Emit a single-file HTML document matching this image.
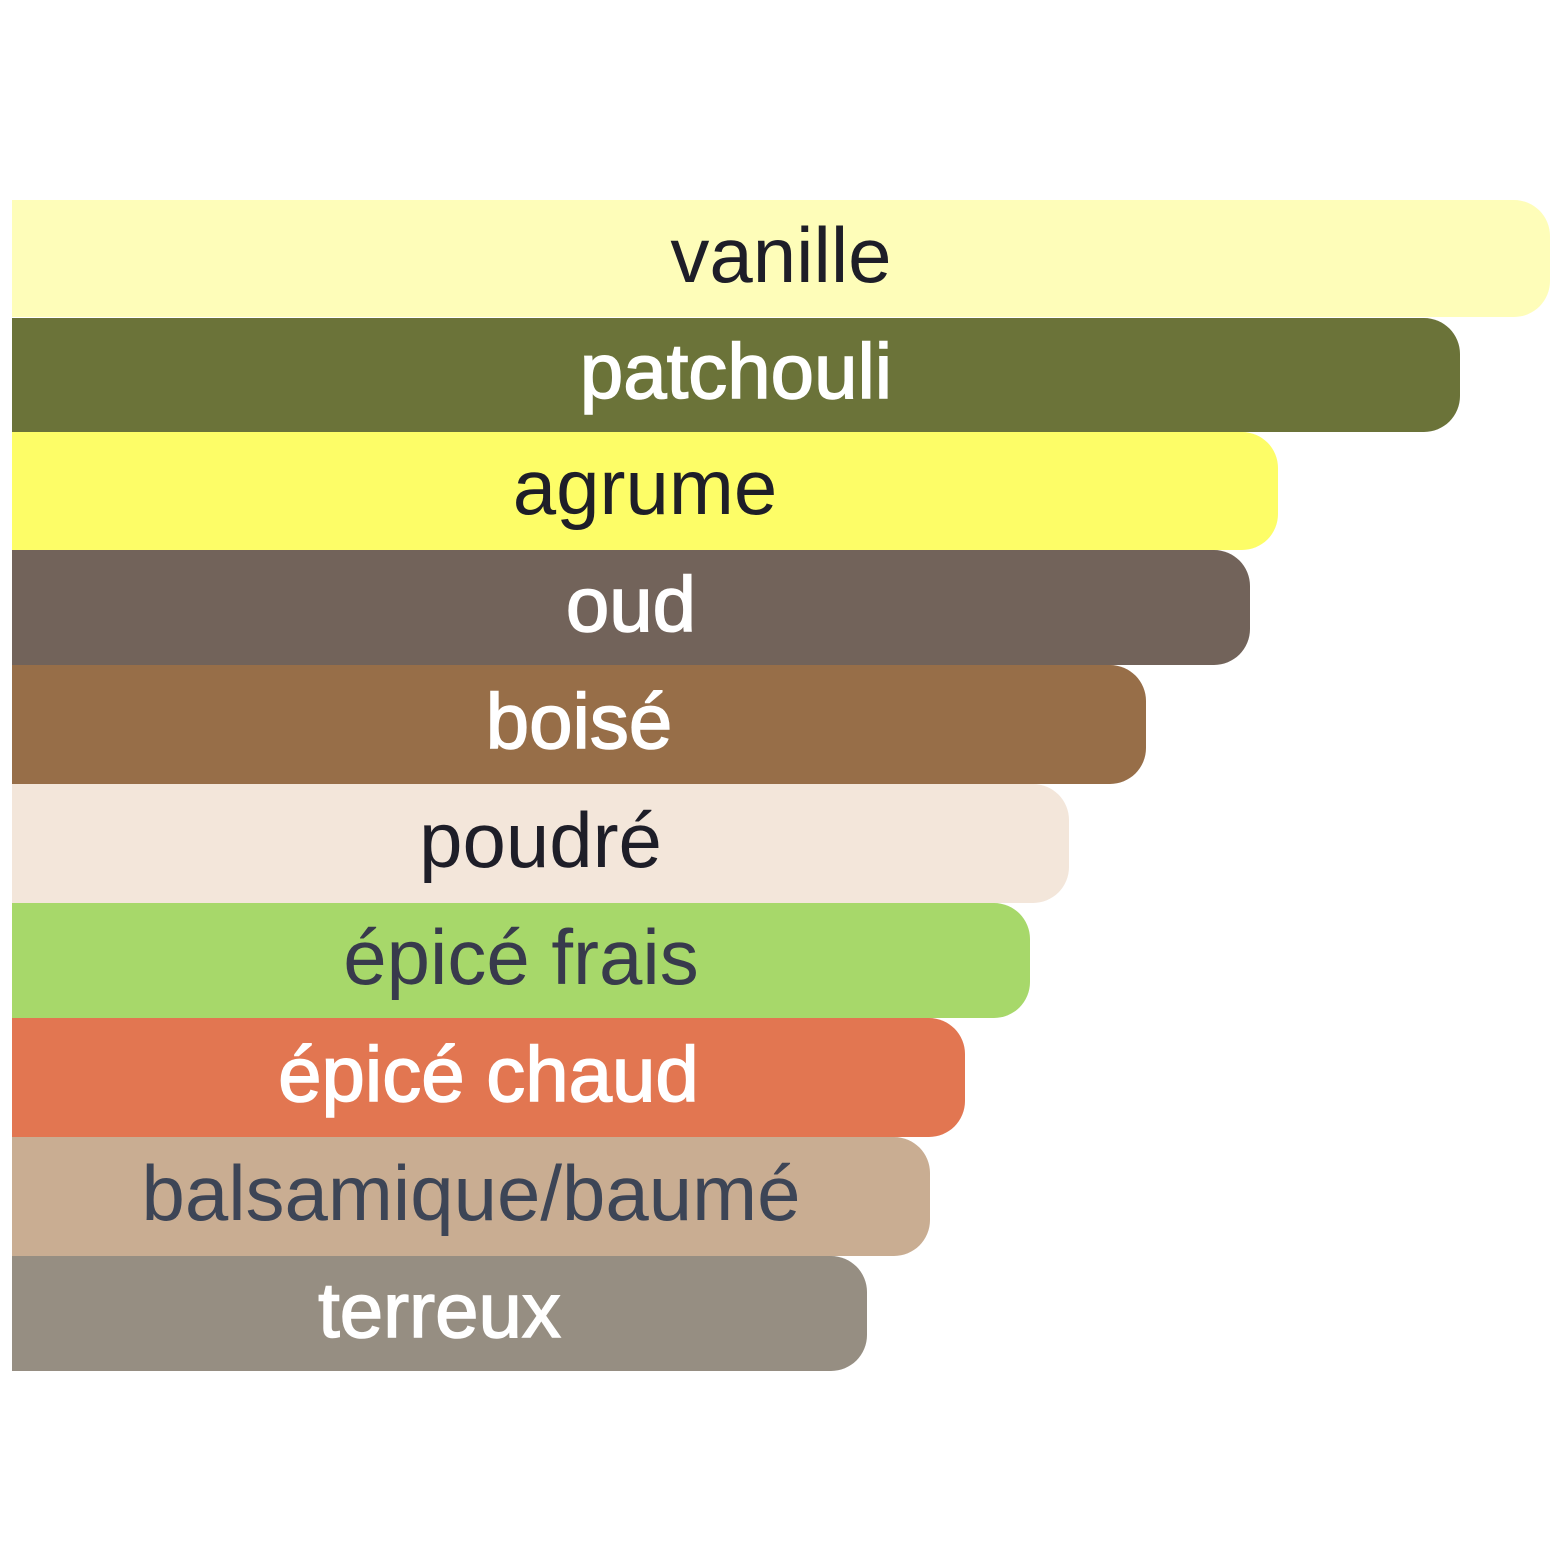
<!DOCTYPE html>
<html><head><meta charset="utf-8"><style>
html,body{margin:0;padding:0;background:#fff;width:1563px;height:1563px;overflow:hidden}
.b{position:absolute;left:12px;display:flex;align-items:center;justify-content:center;font-family:"Liberation Sans",sans-serif;font-size:78px;border-radius:0 36px 36px 0;box-sizing:border-box;line-height:1;padding-bottom:8px}
.w{color:#fff;-webkit-text-stroke:1.5px #fff}
.d{color:#1e1e28}
</style></head><body>
<div class="b d" style="top:200px;height:117px;width:1538px;background:#fefdb9">vanille</div>
<div class="b w" style="top:318px;height:114px;width:1448px;background:#6b7339">patchouli</div>
<div class="b d" style="top:432px;height:118px;width:1266px;background:#fdfd67">agrume</div>
<div class="b w" style="top:550px;height:115px;width:1238px;background:#72635a">oud</div>
<div class="b w" style="top:665px;height:119px;width:1134px;background:#976e48">boisé</div>
<div class="b d" style="top:784px;height:119px;width:1057px;background:#f3e6da">poudré</div>
<div class="b d" style="top:903px;height:115px;width:1018px;background:#a7d86a;color:#383a4c">épicé frais</div>
<div class="b w" style="top:1018px;height:119px;width:953px;background:#e27651">épicé chaud</div>
<div class="b d" style="top:1137px;height:119px;width:918px;background:#c9ad92;color:#3d4556">balsamique/baumé</div>
<div class="b w" style="top:1256px;height:115px;width:855px;background:#968e82">terreux</div>
</body></html>
